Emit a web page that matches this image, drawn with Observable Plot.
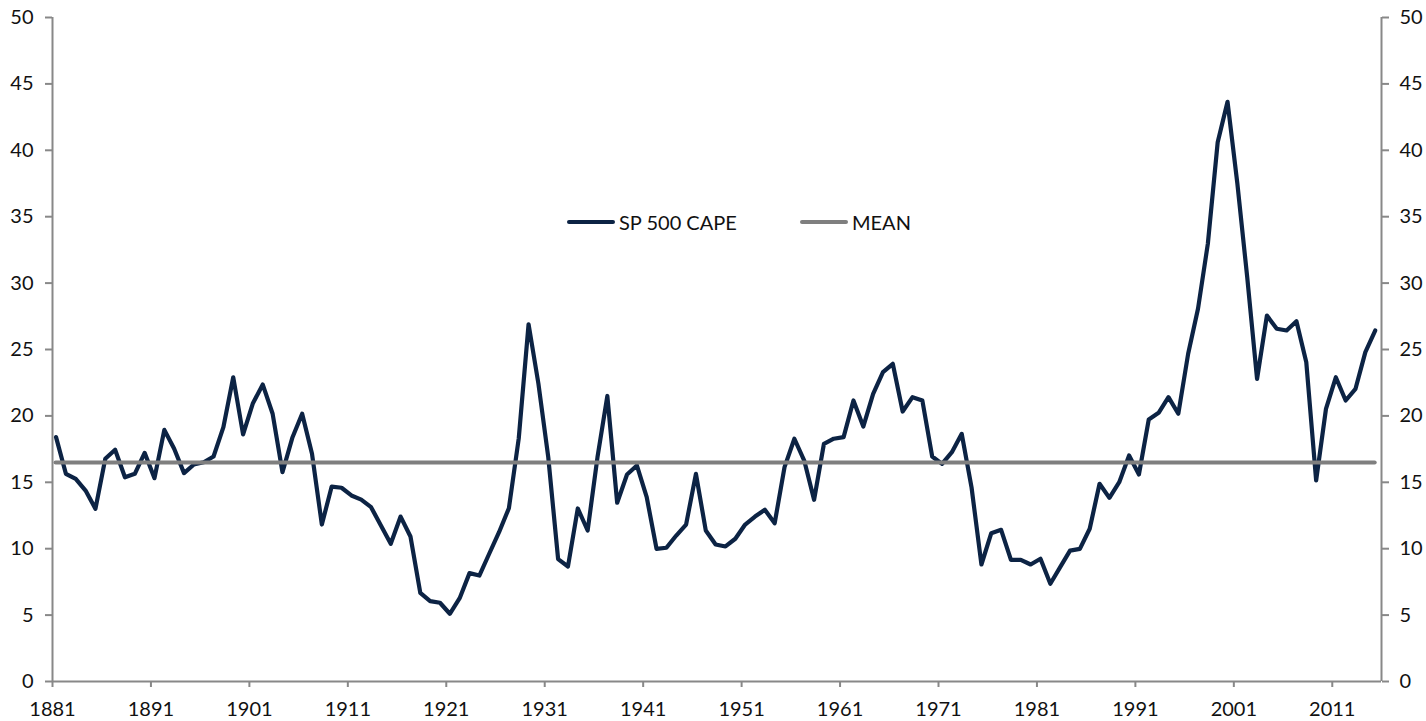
<!DOCTYPE html>
<html>
<head>
<meta charset="utf-8">
<script src="https://cdn.jsdelivr.net/npm/d3@7"></script>
<script src="https://cdn.jsdelivr.net/npm/@observablehq/plot@0.6"></script>
<style>
  body { margin: 0; background: #fff; }
  #wrap { position: relative; width: 1426px; height: 721px; font-family: Lato, "Liberation Sans", sans-serif; }
  .legend { position: absolute; top: 210px; display: flex; align-items: center; font-size: 20px; color: #111; }
  .legend .sw { width: 48px; height: 4px; border-radius: 2px; margin-right: 4px; }
</style>
</head>
<body>
<div id="wrap"></div>
<script>
const firstYear = 1881;
const lastYear = 2015;
const years = d3.range(firstYear, lastYear + 1);
const cape = [
  18.40, 15.64, 15.26, 14.38, 13.00, 16.77, 17.45, 15.38, 15.64, 17.22,
  15.31, 18.95, 17.52, 15.69, 16.34, 16.51, 16.94, 19.15, 22.91, 18.60,
  20.96, 22.36, 20.16, 15.76, 18.35, 20.16, 17.15, 11.82, 14.68, 14.59,
  14.01, 13.70, 13.13, 11.75, 10.37, 12.42, 10.92, 6.68, 6.05, 5.93,
  5.10, 6.27, 8.16, 7.98, 9.62, 11.24, 13.05, 18.30, 26.90, 22.42,
  16.89, 9.22, 8.66, 13.03, 11.37, 16.89, 21.50, 13.46, 15.59, 16.27,
  13.88, 9.99, 10.07, 10.99, 11.82, 15.64, 11.37, 10.32, 10.17, 10.75,
  11.82, 12.42, 12.93, 11.92, 16.14, 18.28, 16.64, 13.68, 17.90, 18.28,
  18.40, 21.16, 19.20, 21.66, 23.29, 23.92, 20.33, 21.41, 21.16, 16.94,
  16.39, 17.27, 18.65, 14.60, 8.81, 11.17, 11.42, 9.16, 9.16, 8.81,
  9.24, 7.36, 8.61, 9.86, 9.99, 11.50, 14.89, 13.83, 15.01, 17.02,
  15.59, 19.73, 20.23, 21.41, 20.16, 24.68, 28.07, 32.96, 40.61, 43.65,
  37.48, 30.44, 22.79, 27.56, 26.56, 26.43, 27.13, 24.04, 15.14, 20.53,
  22.91, 21.16, 22.04, 24.80, 26.43
];
const meanValue = 16.5;
const xTickYears = [1881, 1891, 1901, 1911, 1921, 1931, 1941, 1951, 1961, 1971, 1981, 1991, 2001, 2011];
const yTicks = [0, 5, 10, 15, 20, 25, 30, 35, 40, 45, 50];
const seriesNames = ["SP 500 CAPE", "MEAN"];
const seriesColors = ["#0c2344", "#7f7f7f"];

const data = years.map((y, i) => ({year: y, value: cape[i]}));
const axisColor = "#888888";
const pos = 0.36; // points sit a little after the year tick

const chart = Plot.plot({
  width: 1426,
  height: 721,
  marginLeft: 52,
  marginRight: 45,
  marginTop: 17,
  marginBottom: 40,
  style: {fontFamily: "Lato, 'Liberation Sans', sans-serif", fontSize: "20px", color: "#111", background: "#fff"},
  x: {domain: [firstYear, lastYear + 1]},
  y: {domain: [0, 50]},
  marks: [
    Plot.axisY(yTicks, {anchor: "left", tickSize: 7, tickPadding: 12, stroke: axisColor, strokeWidth: 2, fill: "#111", label: null}),
    Plot.axisY(yTicks, {anchor: "right", tickSize: 7, tickPadding: 11, stroke: axisColor, strokeWidth: 2, fill: "#111", label: null}),
    Plot.axisX(xTickYears, {anchor: "bottom", tickSize: 6, tickPadding: 14, stroke: axisColor, strokeWidth: 2, fill: "#111", tickFormat: d => String(d), label: null}),
    Plot.ruleX([firstYear], {stroke: axisColor, strokeWidth: 2}),
    Plot.ruleX([lastYear + 1], {stroke: axisColor, strokeWidth: 2}),
    Plot.ruleY([0], {stroke: axisColor, strokeWidth: 2}),
    Plot.line(data, {x: d => d.year + pos, y: "value", stroke: seriesColors[0], strokeWidth: 4.2, strokeLinejoin: "round", strokeLinecap: "round"}),
    Plot.ruleY([meanValue], {x1: firstYear + pos, x2: lastYear + pos, stroke: seriesColors[1], strokeWidth: 4, strokeLinecap: "round"})
  ]
});

const wrap = document.getElementById("wrap");
wrap.appendChild(chart);

const legendLefts = [567, 800];
seriesNames.forEach((name, i) => {
  const item = document.createElement("div");
  item.className = "legend";
  item.style.left = legendLefts[i] + "px";
  item.innerHTML = `<span class="sw" style="background:${seriesColors[i]}"></span><span>${name}</span>`;
  wrap.appendChild(item);
});
</script>
</body>
</html>
